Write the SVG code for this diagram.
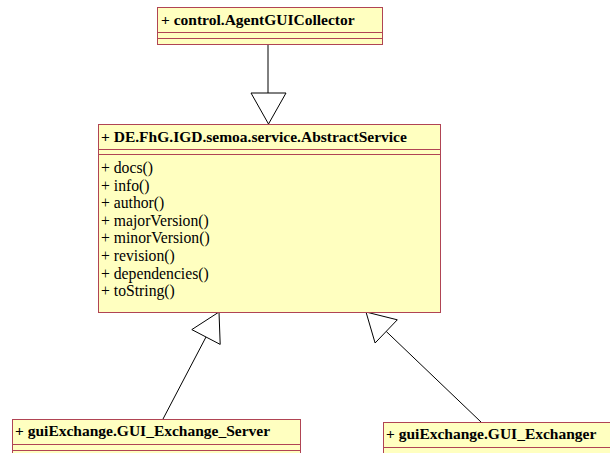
<svg xmlns="http://www.w3.org/2000/svg" width="610" height="453" viewBox="0 0 610 453">
  <style>
    .box { fill: #ffffc0; stroke: #b04454; stroke-width: 1; }
    .sep { stroke: #b04454; stroke-width: 1; fill: none; }
    text { font-family: 'Liberation Serif', 'DejaVu Serif', serif; fill: #000; }
    .title { font-weight: bold; font-size: 15.5px; }
    .op { font-size: 15.7px; }
    .edge { stroke: #000; stroke-width: 1; fill: none; }
    .head { stroke: #000; stroke-width: 1; fill: #fff; }
  </style>
  <rect width="610" height="453" fill="#fff"/>

  <!-- generalization connectors -->
  <g id="connectors">
    <line class="edge" x1="268" y1="44" x2="268" y2="93"/>
    <polygon class="head" points="251,93 286,93 268.5,124"/>

    <line class="edge" x1="163" y1="419" x2="206" y2="337"/>
    <polygon class="head" points="219,312 220.2,344.4 191.8,329.6"/>

    <line class="edge" x1="481" y1="422" x2="386.2" y2="331.4"/>
    <polygon class="head" points="366,312 397.3,319.8 375.1,343"/>
  </g>

  <g id="AgentGUICollector">
    <rect class="box" x="157.5" y="7.5" width="225" height="37"/>
    <line class="sep" x1="157.5" y1="32.5" x2="382.5" y2="32.5"/>
    <line class="sep" x1="157.5" y1="38.5" x2="382.5" y2="38.5"/>
    <text class="title" x="161" y="25">+ control.AgentGUICollector</text>
  </g>

  <g id="AbstractService">
    <rect class="box" x="98.5" y="124.5" width="342" height="188"/>
    <line class="sep" x1="98.5" y1="149.5" x2="440.5" y2="149.5"/>
    <line class="sep" x1="98.5" y1="154.5" x2="440.5" y2="154.5"/>
    <text class="title" x="101" y="142">+ DE.FhG.IGD.semoa.service.AbstractService</text>
    <text class="op" x="101" y="173">+ docs()</text>
    <text class="op" x="101" y="190.6">+ info()</text>
    <text class="op" x="101" y="208.2">+ author()</text>
    <text class="op" x="101" y="225.8">+ majorVersion()</text>
    <text class="op" x="101" y="243.4">+ minorVersion()</text>
    <text class="op" x="101" y="261">+ revision()</text>
    <text class="op" x="101" y="278.6">+ dependencies()</text>
    <text class="op" x="101" y="296.2">+ toString()</text>
  </g>

  <g id="GUI_Exchange_Server">
    <rect class="box" x="12.5" y="419.5" width="288" height="40"/>
    <line class="sep" x1="12.5" y1="444.5" x2="300.5" y2="444.5"/>
    <line class="sep" x1="12.5" y1="450.5" x2="300.5" y2="450.5"/>
    <text class="title" x="15" y="436">+ guiExchange.GUI_Exchange_Server</text>
  </g>

  <g id="GUI_Exchanger">
    <rect class="box" x="383.5" y="422.5" width="240" height="40"/>
    <line class="sep" x1="383.5" y1="447.5" x2="623.5" y2="447.5"/>
    <text class="title" x="386" y="439">+ guiExchange.GUI_Exchanger</text>
  </g>
</svg>
